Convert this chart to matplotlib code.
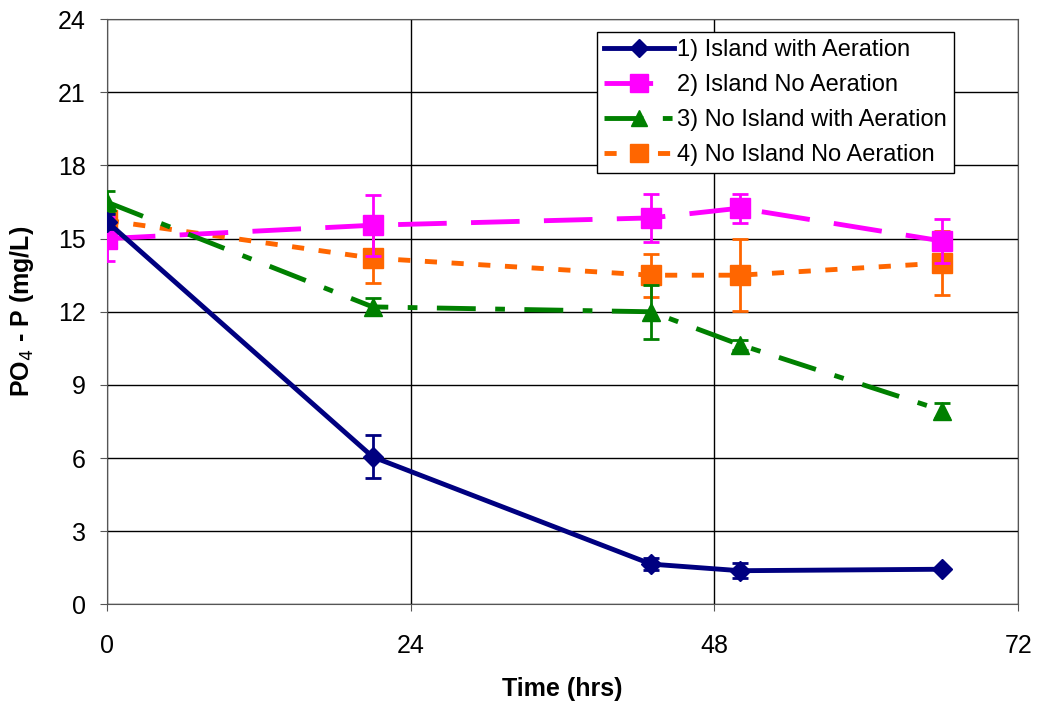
import matplotlib.pyplot as plt
import numpy as np

plt.rcParams['font.family'] = ['Liberation Sans', 'DejaVu Sans']

t1 = [0, 21, 43, 50, 66]
y1 = [15.7, 6.05, 1.65, 1.38, 1.44]
e1 = [0.3, 0.88, 0.25, 0.3, 0.0]

y2 = [15.0, 15.55, 15.85, 16.25, 14.9]
e2 = [0.9, 1.25, 1.0, 0.6, 0.9]

y3 = [16.5, 12.2, 12.0, 10.65, 7.95]
e3 = [0.45, 0.35, 1.1, 0.2, 0.3]

y4 = [15.75, 14.2, 13.5, 13.5, 14.0]
e4 = [0.5, 1.0, 0.88, 1.47, 1.3]

labels = ["1) Island with Aeration", "2) Island No Aeration",
          "3) No Island with Aeration", "4) No Island No Aeration"]

fig = plt.figure(figsize=(10.37, 7.11), dpi=100)
ax = fig.add_axes([0.103, 0.150, 0.879, 0.823])

eb = dict(fmt='none', capsize=6, elinewidth=2, capthick=2)
ax.errorbar(t1, y4, yerr=e4, ecolor='#FF6600', zorder=3, **eb)
ax.errorbar(t1, y3, yerr=e3, ecolor='#008000', zorder=4, **eb)
ax.errorbar(t1, y2, yerr=e2, ecolor='#FF00FF', zorder=4, **eb)
ax.errorbar(t1, y1, yerr=e1, ecolor='#000080', zorder=5, **eb)

l1, = ax.plot(t1, y1, color='#000080', lw=3.5, marker='D', ms=10, zorder=5)
l2, = ax.plot(t1, y2, color='#FF00FF', lw=3.5, marker='s', ms=15,
              dashes=(10, 5), zorder=4)
l3, = ax.plot(t1, y3, color='#008000', lw=3.5, marker='^', ms=13,
              dashes=(8, 4, 2, 4), zorder=4)
l4, = ax.plot(t1, y4, color='#FF6600', lw=3.5, marker='s', ms=15,
              dashes=(2.5, 3), zorder=3)

ax.set_xlim(0, 72)
ax.set_ylim(0, 24)
ax.set_xticks(np.arange(0, 73, 24))
ax.set_yticks(np.arange(0, 25, 3))
ax.grid(True, color='black', lw=1)
ax.set_axisbelow(True)
ax.tick_params(labelsize=18, direction='out', length=5, color='#555555')
ax.tick_params(axis='x', pad=16)
ax.tick_params(axis='y', pad=10)
for s in ax.spines.values():
    s.set_color('#555555')

ax.set_xlabel("Time (hrs)", fontsize=18, fontweight='bold', labelpad=14)
ax.set_ylabel("PO$_4$ - P (mg/L)", fontsize=18, fontweight='bold', labelpad=16)

leg = ax.legend([l1, l2, l3, l4], labels, loc='upper right',
                bbox_to_anchor=(0.929, 0.978), borderaxespad=0, fontsize=17,
                frameon=True, fancybox=False, edgecolor='black', framealpha=1,
                handlelength=3.0, borderpad=0.3, labelspacing=0.55,
                handletextpad=0.1, markerscale=0.9)
leg.get_frame().set_linewidth(1)

fig.savefig("out.png", dpi=100)
